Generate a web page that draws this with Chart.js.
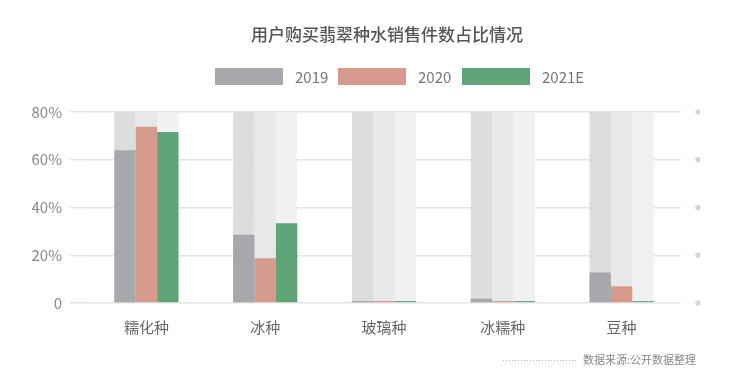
<!DOCTYPE html>
<html><head><meta charset="utf-8">
<script src="https://cdn.jsdelivr.net/npm/chart.js@4/dist/chart.umd.min.js"></script>
<style>html,body{margin:0;padding:0;background:#fff}#wrap{width:750px;height:374px;position:relative}</style>
</head><body><div id="wrap"><canvas id="c" width="750" height="374"></canvas></div>
<script>
const categories = ['糯化种', '冰种', '玻璃种', '冰糯种', '豆种'];
const seriesNames = ['2019', '2020', '2021E'];
const values2019 = [64, 28.6, 0.8, 1.8, 12.8];
const values2020 = [73.8, 18.7, 0.8, 0.8, 7.0];
const values2021E = [71.6, 33.4, 0.8, 0.8, 0.8];
const yTicks = [0, 20, 40, 60, 80];
const title = '用户购买翡翠种水销售件数占比情况';
const sourceText = '数据来源:公开数据整理';

const FONT = '"Noto Sans CJK SC", "Noto Sans", sans-serif';
const barColors = ['#a7a8ab', '#d59a8c', '#5fa578'];
const bgColors = ['#dcdddf', '#e7e8ea', '#f0f1f3'];

const decor = {
  id: 'decor',
  beforeDatasetsDraw(chart) {
    const ctx = chart.ctx, ca = chart.chartArea;
    ctx.save();
    chart.data.datasets.forEach((ds, i) => {
      const meta = chart.getDatasetMeta(i);
      meta.data.forEach(el => {
        ctx.fillStyle = bgColors[i];
        ctx.fillRect(el.x - el.width / 2, ca.top, el.width, ca.bottom - ca.top);
      });
    });
    ctx.restore();
  },
  afterDraw(chart) {
    const ctx = chart.ctx, ca = chart.chartArea, y = chart.scales.y;
    ctx.save();
    // title
    ctx.fillStyle = '#555';
    ctx.font = '500 17px ' + FONT;
    ctx.textAlign = 'center';
    ctx.textBaseline = 'middle';
    ctx.fillText(title, 387, 35);
    // legend
    const lx = [215, 338, 462];
    ctx.font = '15px ' + FONT;
    ctx.textAlign = 'left';
    chart.data.datasets.forEach((ds, i) => {
      ctx.fillStyle = ds.backgroundColor;
      ctx.fillRect(lx[i], 68, 68, 17);
      ctx.fillStyle = '#777';
      ctx.fillText(ds.label, lx[i] + 80, 77);
    });
    // right dots
    ctx.fillStyle = '#d6d6d6';
    yTicks.forEach(t => {
      ctx.beginPath();
      ctx.arc(698, y.getPixelForValue(t), 2.7, 0, Math.PI * 2);
      ctx.fill();
    });
    // source
    ctx.strokeStyle = '#8fc9c0';
    ctx.lineWidth = 1;
    ctx.setLineDash([1, 2]);
    ctx.beginPath();
    ctx.moveTo(503, 360.5);
    ctx.lineTo(578, 360.5);
    ctx.stroke();
    ctx.setLineDash([]);
    ctx.fillStyle = '#888';
    ctx.font = '11px ' + FONT;
    ctx.textAlign = 'left';
    ctx.fillText(sourceText, 583, 360);
    ctx.restore();
  }
};

new Chart(document.getElementById('c'), {
  type: 'bar',
  data: {
    labels: categories,
    datasets: [
      { label: seriesNames[0], data: values2019, backgroundColor: barColors[0] },
      { label: seriesNames[1], data: values2020, backgroundColor: barColors[1] },
      { label: seriesNames[2], data: values2021E, backgroundColor: barColors[2] }
    ]
  },
  options: {
    responsive: false,
    animation: false,
    devicePixelRatio: 1,
    layout: { padding: { top: 112, right: 69, left: 0, bottom: 0 } },
    datasets: { bar: { barPercentage: 1, categoryPercentage: 0.54 } },
    plugins: { legend: { display: false }, title: { display: false }, tooltip: { enabled: false } },
    scales: {
      x: {
        grid: { display: false },
        border: { display: false },
        ticks: { color: '#666', font: { family: FONT, size: 15 }, padding: 7 },
        afterFit(s) { s.height = 71; }
      },
      y: {
        min: 0, max: 80,
        afterBuildTicks(s) { s.ticks = yTicks.map(v => ({ value: v })); },
        grid: { color: '#e4e4e4', lineWidth: 1.5, drawTicks: true, tickLength: 17 },
        border: { display: false },
        ticks: { color: '#888', font: { family: FONT, size: 15 }, padding: 8,
          callback: v => v === 0 ? '0' : v + '%' },
        afterFit(s) { s.width = 87; }
      }
    }
  },
  plugins: [decor]
});
</script></body></html>
